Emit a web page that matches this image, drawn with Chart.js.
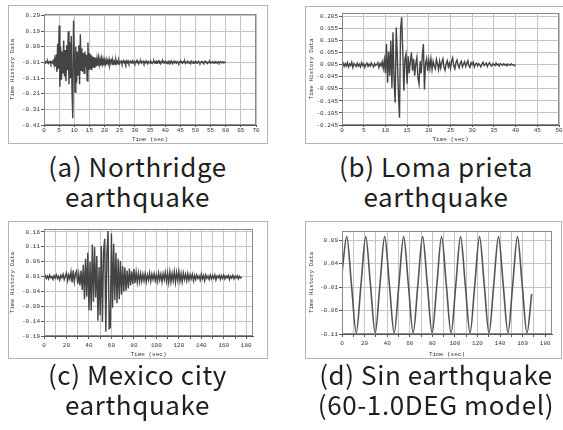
<!DOCTYPE html>
<html>
<head>
<meta charset="utf-8">
<script src="https://cdn.jsdelivr.net/npm/chart.js@4.4.1/dist/chart.umd.min.js"></script>
<style>
  html, body { margin: 0; padding: 0; background: #fff; }
  body { width: 563px; height: 430px; position: relative; overflow: hidden; }
  .box { position: absolute; border: 1px solid #b4b4b4; background: #fff; box-sizing: border-box; }
  .box canvas { display: block; }
  .cap { position: absolute; text-align: center; font-family: 'Noto Sans CJK KR', 'Noto Sans', sans-serif;
         font-size: 26px; line-height: 30px; letter-spacing: 0.6px; color: #1e1e1e; white-space: nowrap; }
</style>
</head>
<body>
<div class="box" style="left:8px;top:5px;width:260px;height:139px"><canvas id="chartA" width="258" height="137"></canvas></div>
<div class="box" style="left:305px;top:6px;width:265px;height:138px"><canvas id="chartB" width="263" height="136"></canvas></div>
<div class="box" style="left:8px;top:221px;width:260px;height:138px"><canvas id="chartC" width="258" height="136"></canvas></div>
<div class="box" style="left:305px;top:221px;width:257px;height:138px"><canvas id="chartD" width="255" height="136"></canvas></div>

<div class="cap" style="left:0;top:151px;width:275px">(a) Northridge<br>earthquake</div>
<div class="cap" style="left:286px;top:151px;width:300px">(b) Loma prieta<br>earthquake</div>
<div class="cap" style="left:0;top:359px;width:275px">(c) Mexico city<br>earthquake</div>
<div class="cap" style="left:286px;top:359px;width:300px">(d) Sin earthquake<br>(60-1.0DEG model)</div>

<script>
'use strict';

// ---------------- data ----------------
// (a) Northridge, one sample every 0.25 sec
var northDt = 0.25;
var northValues = [
  -0.010, -0.006, -0.014, -0.004, -0.012, -0.002, -0.016, -0.008,
  -0.003, -0.018, -0.006, -0.012, 0.000, -0.020, 0.010, -0.035,
  0.040, -0.070, 0.110, -0.050, 0.226, -0.166, 0.090, -0.120,
  0.060, -0.080, 0.130, -0.100, 0.070, -0.130, 0.100, -0.060,
  0.190, -0.150, 0.120, -0.110, 0.160, -0.190, -0.367, 0.258,
  0.040, -0.200, 0.090, -0.140, 0.060, -0.090, 0.100, -0.150,
  0.170, -0.060, 0.080, -0.070, 0.050, -0.080, 0.060, -0.040,
  0.040, -0.128, 0.118, -0.060, 0.050, -0.050, 0.040, -0.060,
  0.030, -0.040, 0.025, -0.045, 0.020, -0.035, 0.015, -0.030,
  0.020, -0.025, 0.010, -0.030, 0.015, -0.020, 0.010, -0.028,
  0.005,
  -0.020, 0.008, -0.024, 0.002, -0.018, 0.010, -0.026, -0.004, 0.006, -0.022, 0.004, -0.016, -0.002, -0.024, 0.008, -0.014,
  -0.004, -0.020, 0.002, -0.016, -0.006, 0.000, -0.018, -0.008, 0.002, -0.014, -0.004, -0.020, -0.002, -0.012, 0.000, -0.016,
  -0.008, -0.002, -0.014, -0.006, 0.002, -0.012, -0.004, -0.016, -0.008, 0.000, -0.012, -0.006, -0.018, -0.004, -0.010, 0.000,
  -0.014, -0.008, -0.002, -0.016, -0.006, -0.012, 0.000, -0.010, -0.018, -0.004, -0.008, -0.014, -0.002, -0.010, -0.016, -0.006,
  0.000, -0.012, -0.006, -0.016, -0.004, -0.010, -0.002, -0.014, -0.008, -0.018, -0.004, -0.010, 0.000, -0.012, -0.006, -0.014,
  -0.004, -0.010, -0.016, -0.002, -0.012, -0.006, -0.014, 0.000, -0.010, -0.016, -0.006, -0.012, -0.002, -0.008, -0.014, -0.004,
  -0.010, -0.016, -0.006, 0.000, -0.012, -0.008, -0.014, -0.004, -0.010, -0.002, -0.016, -0.008, -0.012, -0.004, -0.010, -0.014,
  -0.006, -0.012, -0.002, -0.010, -0.016, -0.006, -0.010, -0.004, -0.014, -0.008, -0.012, -0.002, -0.010, -0.016, -0.008, -0.004,
  -0.012, -0.006, -0.014, -0.008, -0.002, -0.012, -0.010, -0.016, -0.006, -0.010, -0.004, -0.014, -0.008, -0.012, -0.006, -0.010,
  -0.014, -0.004, -0.010, -0.008, -0.012, -0.006, -0.014, -0.008, -0.004, -0.012, -0.010, -0.006, -0.012, -0.008, -0.010, -0.010
];
var northTicks = [0.29, 0.19, 0.09, -0.01, -0.11, -0.21, -0.31, -0.41];

// (b) Loma prieta, one sample every 0.25 sec
var lomaDt = 0.25;
var lomaValues = [
  0.005, 0.012, -0.002, 0.010, 0.000, 0.014, -0.004, 0.008,
  0.002, 0.016, -0.006, 0.010, 0.004, -0.002, 0.012, 0.000,
  0.008, -0.004, 0.014, 0.002, 0.010, -0.006, 0.006, 0.012,
  -0.002, 0.008, 0.000, 0.013, 0.003, -0.004, 0.010, 0.002,
  0.006, 0.014, -0.006, 0.010, 0.000, 0.018, -0.010, 0.025,
  -0.030, 0.091, -0.069, 0.060, -0.040, 0.105, -0.090, 0.140,
  -0.060, -0.152, 0.160, 0.040, -0.116, -0.215, 0.154, 0.202,
  0.060, -0.103, 0.030, 0.050, -0.074, 0.040, -0.030, 0.020,
  0.056, -0.020, 0.030, -0.040, 0.010, 0.035, -0.050, -0.075,
  0.020, -0.030, 0.040, 0.091, -0.098, 0.010, 0.030, -0.020,
  0.025, -0.010, 0.030, -0.015, 0.020, 0.000, -0.012, 0.028,
  0.010, -0.015, 0.020, -0.008, 0.015, 0.030, -0.005, -0.018,
  0.010, 0.022, -0.004, 0.012, -0.010, 0.020, 0.034, 0.000,
  -0.012, 0.015, 0.025, 0.002, -0.008, 0.012, 0.020, -0.004,
  0.008, 0.018, -0.002, 0.010, 0.022, 0.000, -0.006, 0.014,
  0.006, 0.016, -0.004, 0.008, 0.012, 0.000, 0.010, 0.004,
  -0.004, 0.008, 0.016, 0.002, 0.006, 0.012, -0.002, 0.008,
  0.014, 0.004, 0.000, 0.010, 0.006, 0.002, 0.012, 0.004,
  0.008, 0.000, 0.010, 0.006, 0.002, 0.009, 0.004, 0.007,
  0.001, 0.008, 0.005, 0.003, 0.009, 0.004, 0.006, 0.002,
  0.005
];
var lomaTicks = [0.205, 0.155, 0.105, 0.055, 0.005, -0.045, -0.095, -0.145, -0.195, -0.245];

// (c) Mexico city, one sample every second
var mexicoDt = 1;
var mexicoValues = [
  0.008, 0.014, 0.004, 0.012, 0.002, 0.015, 0.006, 0.010, 0.000, 0.013,
  0.005, 0.016, 0.003, 0.011, -0.002, 0.014, 0.006, 0.018, 0.000, 0.012,
  0.022, -0.004, 0.016, 0.002, 0.026, -0.010, 0.031, -0.008, 0.020, 0.029,
  -0.015, 0.018, -0.020, 0.030, -0.035, 0.050, -0.066, 0.070, -0.058, 0.090,
  -0.103, 0.060, -0.105, 0.118, -0.075, 0.109, -0.060, 0.079, -0.139, 0.042,
  -0.120, 0.113, -0.142, 0.095, 0.137, -0.176, 0.090, 0.163, -0.165, -0.161,
  0.155, -0.095, 0.120, -0.070, 0.090, -0.080, 0.070, -0.066, 0.062, -0.050,
  0.045, -0.040, 0.040, -0.038, 0.030, -0.030, 0.037, -0.020, 0.028, -0.015,
  0.035, -0.012, 0.025, -0.010, 0.022, -0.008, 0.020, -0.006, 0.018, -0.004,
  0.020, -0.008, 0.016, -0.002, 0.022, -0.006, 0.018, 0.000, 0.020, -0.004,
  0.016, -0.006, 0.022, -0.002, 0.018, -0.008, 0.020, 0.000, 0.024, -0.006,
  0.022, -0.010, 0.026, -0.008, 0.020, -0.004, 0.027, -0.010, 0.024, -0.002,
  0.027, -0.006, 0.020, -0.008, 0.022, 0.000, 0.018, -0.004, 0.020, -0.002,
  0.016, 0.002, 0.018, -0.004, 0.014, 0.000, 0.016, 0.004, 0.012, -0.002,
  0.018, 0.002, 0.014, -0.004, 0.016, 0.004, 0.012, 0.000, 0.015, 0.002,
  0.014, 0.004, 0.016, -0.002, 0.012, 0.006, 0.014, 0.000, 0.013, 0.004,
  0.015, 0.002, 0.012, 0.006, 0.014, 0.000, 0.012, 0.005, 0.014, 0.002,
  0.012, 0.006, 0.013, 0.002, 0.011, 0.005, 0.008
];
var mexicoTicks = [0.16, 0.11, 0.06, 0.01, -0.04, -0.09, -0.14, -0.19];

// (d) Sin earthquake, peaks / crossings / troughs every 4.2 sec
var sinDt = 4.2;
var sinValues = [
  0.020, 0.098, -0.005, -0.108, -0.005, 0.098, -0.005, -0.108, -0.005, 0.098,
  -0.005, -0.108, -0.005, 0.098, -0.005, -0.108, -0.005, 0.098, -0.005, -0.108,
  -0.005, 0.098, -0.005, -0.108, -0.005, 0.098, -0.005, -0.108, -0.005, 0.098,
  -0.005, -0.108, -0.005, 0.098, -0.005, -0.108, -0.005, 0.098, -0.005, -0.108,
  -0.025
];
var sinTicks = [0.09, 0.04, -0.01, -0.06, -0.11];

// ---------------- drawing ----------------
var monoFont = 'Liberation Mono, DejaVu Sans Mono, monospace';

function toPoints(dt, values) {
  var pts = [];
  for (var i = 0; i < values.length; i++) {
    pts.push({ x: i * dt, y: values[i] });
  }
  return pts;
}

// frame around the plot area
var framePlugin = {
  id: 'frame',
  afterDraw: function (chart) {
    var a = chart.chartArea;
    var ctx = chart.ctx;
    ctx.save();
    ctx.strokeStyle = '#8a8a8a';
    ctx.lineWidth = 1;
    ctx.strokeRect(Math.round(a.left) + 0.5, Math.round(a.top) + 0.5,
      Math.round(a.right - a.left) - 1, Math.round(a.bottom - a.top) - 1);
    ctx.restore();
  }
};

function drawPanel(p) {
  var ctx = document.getElementById(p.id).getContext('2d');
  return new Chart(ctx, {
    type: 'line',
    data: {
      datasets: [{
        data: toPoints(p.dt, p.values),
        borderColor: p.color,
        borderWidth: p.width,
        pointRadius: 0,
        tension: 0,
        cubicInterpolationMode: p.smooth ? 'monotone' : 'default',
        fill: false
      }]
    },
    options: {
      responsive: false,
      animation: false,
      events: [],
      layout: { padding: { top: p.padTop, right: p.padRight, left: 0, bottom: 0 } },
      plugins: { legend: { display: false }, tooltip: { enabled: false } },
      scales: {
        x: {
          type: 'linear',
          min: 0,
          max: p.xMax,
          afterFit: function (scale) { scale.height = p.xHeight; },
          ticks: {
            stepSize: p.xStep,
            includeBounds: false,
            autoSkip: false,
            maxRotation: 0,
            padding: p.xPad,
            color: '#333',
            font: { family: monoFont, size: 6 },
            callback: function (v) { return v % p.xLabelStep === 0 ? String(v) : ''; }
          },
          grid: { color: '#c4c4c4', tickLength: p.xTickLen, tickColor: '#555' },
          border: { display: true, color: '#555' },
          title: {
            display: true, text: 'Time (sec)', color: '#333',
            font: { family: monoFont, size: 6 }, padding: { top: 0, bottom: 0 }
          }
        },
        y: {
          min: p.yMin,
          max: p.yMax,
          afterBuildTicks: function (scale) {
            scale.ticks = p.yTicks.map(function (v) { return { value: v }; });
          },
          afterFit: function (scale) { scale.width = p.yWidth; },
          ticks: {
            autoSkip: false,
            padding: 1,
            color: '#333',
            font: { family: monoFont, size: 6 },
            callback: function (v) { return Number(v).toFixed(p.decimals); }
          },
          grid: { color: '#c4c4c4', tickLength: 3, tickColor: '#555' },
          border: { display: true, color: '#555' },
          title: {
            display: true, text: 'Time History Data', color: '#333',
            font: { family: monoFont, size: 6 }, padding: { top: p.titlePad, bottom: 0 }
          }
        }
      }
    },
    plugins: [framePlugin]
  });
}

drawPanel({
  id: 'chartA', dt: northDt, values: northValues, yTicks: northTicks,
  yMin: -0.41, yMax: 0.30, decimals: 2, xMax: 70, xStep: 5, xLabelStep: 5,
  yWidth: 35, xHeight: 18, padTop: 8, padRight: 11, xPad: 0, xTickLen: 2, titlePad: 0,
  color: '#444', width: 1.4, smooth: false
});

drawPanel({
  id: 'chartB', dt: lomaDt, values: lomaValues, yTicks: lomaTicks,
  yMin: -0.245, yMax: 0.22, decimals: 3, xMax: 50, xStep: 5, xLabelStep: 5,
  yWidth: 36, xHeight: 18, padTop: 6, padRight: 10, xPad: 0, xTickLen: 2, titlePad: 2,
  color: '#444', width: 1.4, smooth: false
});

drawPanel({
  id: 'chartC', dt: mexicoDt, values: mexicoValues, yTicks: mexicoTicks,
  yMin: -0.19, yMax: 0.17, decimals: 2, xMax: 186, xStep: 10, xLabelStep: 20,
  yWidth: 35, xHeight: 22, padTop: 7, padRight: 14, xPad: 3, xTickLen: 3, titlePad: 0,
  color: '#444', width: 1.4, smooth: false
});

drawPanel({
  id: 'chartD', dt: sinDt, values: sinValues, yTicks: sinTicks,
  yMin: -0.11, yMax: 0.11, decimals: 2, xMax: 186, xStep: 10, xLabelStep: 20,
  yWidth: 36, xHeight: 24, padTop: 9, padRight: 9, xPad: 3, xTickLen: 3, titlePad: 2,
  color: '#555', width: 1.6, smooth: true
});
</script>
</body>
</html>
